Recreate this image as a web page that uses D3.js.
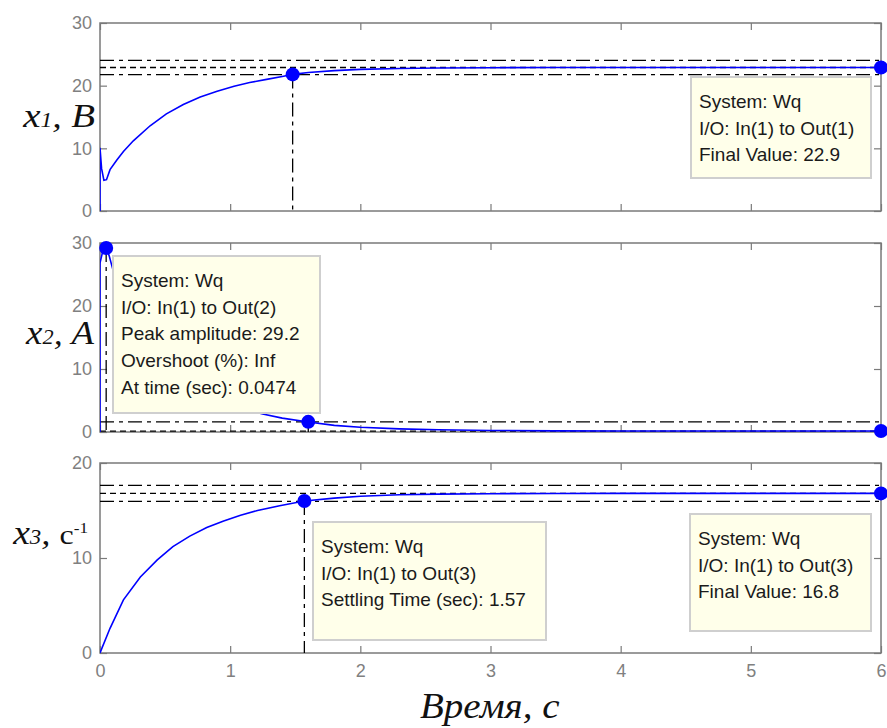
<!DOCTYPE html>
<html>
<head>
<meta charset="utf-8">
<script src="https://cdn.jsdelivr.net/npm/d3@7"></script>
<style>
  body { margin: 0; background: #fff; }
  svg { display: block; }
</style>
</head>
<body>
<svg id="chart" width="887" height="728"></svg>
<script>
"use strict";

// time ticks shared by all three panels
const xTicks = [0, 1, 2, 3, 4, 5, 6];

// x1 (voltage) step response
const t1 = [0, 0, 0.012, 0.03, 0.05, 0.077, 0.128, 0.18, 0.256, 0.385, 0.51, 0.64, 0.77, 0.9, 1.03, 1.15, 1.28, 1.41, 1.48, 1.6, 1.8, 2.0, 2.3, 2.6, 3.0, 3.5, 4.0, 5.0, 6.0];
const x1 = [0, 10.1, 6.8, 4.9, 5.0, 6.6, 8.1, 9.5, 11.2, 13.6, 15.5, 17.0, 18.2, 19.1, 19.9, 20.5, 21.0, 21.5, 21.8, 22.1, 22.4, 22.6, 22.75, 22.82, 22.87, 22.89, 22.9, 22.9, 22.9];

// x2 (current)
const t2 = [0, 0, 0.02, 0.0474, 0.07, 0.1, 0.2, 0.3, 0.4, 0.5, 0.6, 0.7, 0.8, 0.9, 1.0, 1.1, 1.25, 1.4, 1.6, 1.8, 2.0, 2.3, 2.6, 3.0, 3.5, 4, 5, 6];
const x2 = [0, 26.8, 28.6, 29.2, 28.0, 25.7, 21.5, 17.8, 14.6, 12.0, 9.9, 8.1, 6.7, 5.5, 4.5, 3.7, 2.86, 2.2, 1.6, 1.05, 0.75, 0.5, 0.35, 0.25, 0.18, 0.16, 0.15, 0.15];

// x3 (speed)
const t3 = [0, 0.077, 0.18, 0.31, 0.44, 0.56, 0.69, 0.82, 0.95, 1.08, 1.21, 1.38, 1.57, 1.8, 2.0, 2.3, 2.6, 3.0, 3.5, 4, 5, 6];
const x3 = [0, 2.6, 5.6, 8.0, 9.8, 11.2, 12.3, 13.2, 13.9, 14.5, 15.0, 15.5, 16.0, 16.3, 16.5, 16.65, 16.72, 16.77, 16.79, 16.8, 16.8, 16.8];

// y ticks per panel
const yTicks1 = [0, 10, 20, 30];
const yTicks2 = [0, 10, 20, 30];
const yTicks3 = [0, 10, 20];

// settling bands: [lower, final value, upper]
const band1 = [21.76, 22.9, 24.05];
const band2 = [-1.31, 0.15, 1.61];
const band3 = [15.96, 16.8, 17.64];

// characteristic points [t, y]
const settle1 = [1.48, 21.8];
const final1 = [6, 22.9];
const peak2 = [0.0474, 29.2];
const settle2 = [1.6, 1.61];
const final2 = [6, 0.15];
const settle3 = [1.57, 16.0];
const final3 = [6, 16.8];

// data tip texts
const tip1 = ["System: Wq", "I/O: In(1) to Out(1)", "Final Value: 22.9"];
const tip2 = ["System: Wq", "I/O: In(1) to Out(2)", "Peak amplitude: 29.2", "Overshoot (%): Inf", "At time (sec): 0.0474"];
const tip3a = ["System: Wq", "I/O: In(1) to Out(3)", "Settling Time (sec): 1.57"];
const tip3b = ["System: Wq", "I/O: In(1) to Out(3)", "Final Value: 16.8"];

const svg = d3.select("#chart");
const left = 100, right = 881;
const x = d3.scaleLinear().domain([0, 6]).range([left, right]);

const BLUE = "#0000ff";
const GRAY = "#7a7a7a";
const SANS = "'Liberation Sans', Arial, sans-serif";
const SERIF = "'Liberation Serif', 'Times New Roman', serif";

// stretch a text horizontally to a given width (the reference is a bit wide)
function fitWidth(sel, x0, width) {
  const bb = sel.node().getBBox();
  const sx = width / bb.width;
  sel.attr("transform", `translate(${x0},0) scale(${sx},1) translate(${-bb.x},0)`);
}

const panels = [
  { top: 23, bottom: 211, ymax: 30, yTicks: yTicks1, t: t1, v: x1, band: band1,
    points: [settle1, final1], vlines: [settle1], labels: ["1", "В"], showX: false },
  { top: 243, bottom: 432, ymax: 30, yTicks: yTicks2, t: t2, v: x2, band: band2,
    points: [peak2, settle2, final2], vlines: [peak2, settle2], labels: ["2", "А"], showX: false },
  { top: 463, bottom: 653, ymax: 20, yTicks: yTicks3, t: t3, v: x3, band: band3,
    points: [settle3, final3], vlines: [settle3], labels: ["3", "с"], showX: true }
];

// label placement: left edge, width, baseline
const labPos = [[22, 73, 127], [25, 70, 344], [12, 76, 544]];

panels.forEach((p, i) => {
  const y = d3.scaleLinear().domain([0, p.ymax]).range([p.bottom, p.top]);
  const g = svg.append("g");

  const clipId = `clip${i}`;
  svg.append("clipPath").attr("id", clipId)
    .append("rect")
    .attr("x", left).attr("y", p.top)
    .attr("width", right - left).attr("height", p.bottom - p.top + 1);

  // axes with inward ticks on all four sides
  const styleAxis = (ax) => {
    ax.select(".domain").remove();
    ax.selectAll(".tick line").attr("stroke", GRAY).attr("stroke-width", 1.2);
    ax.selectAll(".tick text").attr("fill", "#808080")
      .style("font-family", SANS).style("font-size", "18px");
  };
  g.append("g").attr("transform", `translate(0,${p.bottom})`)
    .call(d3.axisBottom(x).tickValues(xTicks).tickSizeInner(-7).tickSizeOuter(0).tickPadding(11)
      .tickFormat(p.showX ? d3.format("d") : () => ""))
    .call(styleAxis);
  g.append("g").attr("transform", `translate(0,${p.top})`)
    .call(d3.axisTop(x).tickValues(xTicks).tickSizeInner(-7).tickSizeOuter(0).tickFormat(() => ""))
    .call(styleAxis);
  g.append("g").attr("transform", `translate(${left},0)`)
    .call(d3.axisLeft(y).tickValues(p.yTicks).tickSizeInner(-7).tickSizeOuter(0).tickPadding(8)
      .tickFormat(d3.format("d")))
    .call(styleAxis);
  g.append("g").attr("transform", `translate(${right},0)`)
    .call(d3.axisRight(y).tickValues(p.yTicks).tickSizeInner(-7).tickSizeOuter(0).tickFormat(() => ""))
    .call(styleAxis);

  g.append("rect")
    .attr("x", left).attr("y", p.top)
    .attr("width", right - left).attr("height", p.bottom - p.top)
    .attr("fill", "none").attr("stroke", GRAY).attr("stroke-width", 1.5);

  const plot = g.append("g").attr("clip-path", `url(#${clipId})`);

  // settling band lines
  plot.selectAll("line.band")
    .data(p.band)
    .enter().append("line")
    .attr("x1", left).attr("x2", right)
    .attr("y1", d => y(d)).attr("y2", d => y(d))
    .attr("stroke", "#000").attr("stroke-width", 1.3)
    .attr("stroke-dasharray", (d, j) => j === 1 ? "6,4" : "14,5,4,5");

  // response curve
  const line = d3.line().x(d => x(d[0])).y(d => y(d[1]));
  plot.append("path")
    .datum(p.t.map((tt, j) => [tt, p.v[j]]))
    .attr("d", line)
    .attr("fill", "none").attr("stroke", BLUE).attr("stroke-width", 1.6);

  // vertical dash-dot lines from characteristic points down to the axis
  plot.selectAll("line.vl")
    .data(p.vlines)
    .enter().append("line")
    .attr("x1", d => x(d[0])).attr("x2", d => x(d[0]))
    .attr("y1", d => y(d[1])).attr("y2", p.bottom)
    .attr("stroke", "#000").attr("stroke-width", 1.3)
    .attr("stroke-dasharray", "14,5,4,5");

  g.selectAll("circle.pt")
    .data(p.points)
    .enter().append("circle")
    .attr("cx", d => x(d[0])).attr("cy", d => y(d[1]))
    .attr("r", 7).attr("fill", BLUE);

  // y label, e.g. x1, В
  const lab = svg.append("text")
    .attr("font-family", SERIF).attr("font-style", "italic").attr("fill", "#111")
    .attr("x", 0)
    .attr("y", labPos[i][2]);
  lab.append("tspan").attr("font-size", 33).text("x");
  lab.append("tspan").attr("font-size", 20).text(p.labels[0]);
  lab.append("tspan").attr("font-size", 32).text(", ");
  if (i < 2) {
    lab.append("tspan").attr("font-size", 33).text(p.labels[1]);
  } else {
    lab.append("tspan").attr("font-size", 28).attr("font-style", "normal").text(p.labels[1]);
    lab.append("tspan").attr("font-size", 15).attr("font-style", "normal").attr("dy", -11).text("-1");
  }
  fitWidth(lab, labPos[i][0], labPos[i][1]);
});

// data tips
const tips = [
  { lines: tip1, x: 691, y: 77, w: 180, h: 101 },
  { lines: tip2, x: 113, y: 256, w: 207, h: 157 },
  { lines: tip3a, x: 313, y: 522, w: 233, h: 118 },
  { lines: tip3b, x: 690, y: 514, w: 181, h: 117 }
];

tips.forEach(tp => {
  const g = svg.append("g");
  g.append("rect")
    .attr("x", tp.x).attr("y", tp.y).attr("width", tp.w).attr("height", tp.h)
    .attr("fill", "#ffffea").attr("stroke", "#cfcfcf").attr("stroke-width", 2);
  g.selectAll("text")
    .data(tp.lines)
    .enter().append("text")
    .attr("x", tp.x + 8)
    .attr("y", (d, j) => tp.y + 31 + j * 26.7)
    .attr("font-family", SANS).attr("font-size", 19).attr("fill", "#1a1a1a")
    .text(d => d);
});

// x axis title
const xt = svg.append("text")
  .attr("x", 0).attr("y", 718)
  .attr("font-family", SERIF).attr("font-style", "italic").attr("font-size", 35)
  .attr("fill", "#111")
  .text("Время, с");
fitWidth(xt, 420, 140);
</script>
</body>
</html>
